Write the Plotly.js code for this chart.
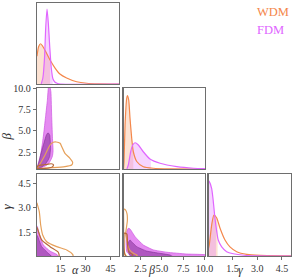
<!DOCTYPE html>
<html><head><meta charset="utf-8">
<script src="https://cdn.plot.ly/plotly-3.0.1.min.js"></script>
<style>html,body{margin:0;padding:0;background:#fff}#plot{width:293px;height:279px}</style>
</head><body><div id="plot"></div>
<script>
// ---------- Data ----------
const seriesNames = ['WDM', 'FDM'];
const paramNames = ['α', 'β', 'γ'];

// 1D marginals (normalised density)
const alphaWdmX = [1, 2, 3.2, 4.5, 6.5, 8.8, 11.8, 14.7, 18.7, 24.7, 30.7, 38, 50];
const alphaWdmP = [0.37, 0.50, 0.537, 0.50, 0.42, 0.32, 0.213, 0.133, 0.08, 0.03, 0.01, 0.003, 0];
const alphaFdmX = [3.5, 4.5, 5.5, 6.2, 7.0, 7.8, 8.6, 9.5, 10.5, 11.5, 13, 15, 50];
const alphaFdmP = [0, 0.08, 0.35, 0.75, 1.0, 0.8, 0.5, 0.22, 0.07, 0.03, 0.01, 0, 0];
const alphaWdmCI = [1, 8.8];
const alphaFdmCI = [4.0, 10.4];

const betaWdmX = [0.5, 0.56, 0.68, 0.87, 0.95, 1.11, 1.26, 1.46, 1.65, 2.05, 2.82, 4.0, 6, 10.05];
const betaWdmP = [0, 0.10, 0.59, 0.94, 0.98, 0.92, 0.68, 0.41, 0.23, 0.10, 0.03, 0.01, 0.002, 0];
const betaFdmX = [0.9, 1.06, 1.34, 1.58, 1.85, 2.24, 2.82, 3.6, 4.78, 6.74, 8.7, 10.05];
const betaFdmP = [0, 0.053, 0.23, 0.32, 0.35, 0.32, 0.23, 0.133, 0.076, 0.031, 0.01, 0.005];
const betaWdmCI = [0.56, 1.65];
const betaFdmCI = [1.06, 3.7];

const gammaWdmX = [0.05, 0.1, 0.25, 0.38, 0.55, 0.75, 1.05, 1.35, 1.76, 2.37, 3.2, 5.05];
const gammaWdmP = [0.1, 0.15, 0.42, 0.54, 0.5, 0.365, 0.21, 0.12, 0.057, 0.022, 0.008, 0.002];
const gammaFdmX = [0.05, 0.1, 0.24, 0.34, 0.44, 0.55, 0.64, 0.85, 1.15, 1.55, 2.2, 3.0, 5.05];
const gammaFdmP = [0.99, 0.98, 0.89, 0.72, 0.5, 0.32, 0.21, 0.12, 0.057, 0.03, 0.01, 0.003, 0];
const gammaWdmCI = [0.05, 0.6];
const gammaFdmCI = [0.05, 0.5];

// 2D credible contours: beta vs alpha
const baFdmOuterA = [8.6, 9.3, 9.8, 10.3, 10.6, 10.2, 9.6, 8.3, 6.8, 4.5, 2.8, 1.3, 0.9, 1.4, 2.8, 4.3, 5.2, 6.2, 7.2, 8.0, 8.6];
const baFdmOuterB = [10.3, 9.6, 6.5, 3.9, 2.6, 2.0, 1.7, 1.25, 0.95, 0.72, 0.58, 0.45, 0.6, 0.8, 1.76, 3.6, 5.0, 6.8, 8.6, 10.3, 10.3];
const baFdmInnerA = [7.6, 8.6, 9.1, 8.6, 7.7, 6.0, 4.8, 3.0, 1.8, 1.2, 1.5, 2.0, 3.6, 5.2, 6.6, 7.6];
const baFdmInnerB = [4.78, 4.5, 2.94, 2.0, 1.56, 1.1, 0.85, 0.65, 0.58, 0.7, 0.95, 1.3, 2.5, 3.6, 4.5, 4.78];
const baWdmOuterA = [10.7, 12.5, 14.8, 15.8, 17.7, 20.7, 22.3, 21.7, 17.7, 10.7, 3.8, 1.2, 1.5, 2.4, 5.8, 8.8, 10.7];
const baWdmOuterB = [3.65, 3.68, 3.53, 3.13, 2.35, 1.76, 1.29, 0.97, 0.77, 0.65, 0.58, 0.6, 0.75, 0.97, 2.15, 3.33, 3.65];
const baWdmInnerA = [1.2, 3.0, 4.8, 7.0, 9.5, 10.8, 10.2, 8.0, 5.8, 3.0, 1.2, 0.9, 1.2];
const baWdmInnerB = [0.8, 0.95, 1.0, 1.05, 1.12, 1.0, 0.75, 0.62, 0.57, 0.55, 0.58, 0.7, 0.8];

// gamma vs alpha
const gaFdmOuterA = [0.9, 1.2, 2.8, 4.8, 8.8, 12.8, 13.5, 12.0, 8.0, 4.0, 0.9];
const gaFdmOuterG = [1.9, 1.84, 1.23, 0.72, 0.35, 0.15, 0.06, 0.0, 0.0, 0.0, 0.0];
const gaFdmInnerA = [0.9, 1.2, 3.8, 7.75, 9.5, 8.0, 4.0, 0.9];
const gaFdmInnerG = [1.32, 1.29, 0.62, 0.21, 0.05, 0.0, 0.0, 0.0];
const gaWdmOuterA = [0.9, 1.2, 2.37, 3.2, 4.4, 6.8, 12.8, 18.75, 22.3, 22.5, 20, 12, 5, 0.9];
const gaWdmOuterG = [3.3, 3.2, 2.75, 1.94, 1.33, 0.92, 0.62, 0.42, 0.15, 0.05, 0.0, 0.0, 0.0, 0.0];
const gaWdmInnerA = [0.9, 1.2, 3.8, 8.8, 13.7, 14.2, 12, 5, 0.9];
const gaWdmInnerG = [1.8, 1.74, 1.03, 0.62, 0.28, 0.05, 0.0, 0.0, 0.0];

// gamma vs beta
const gbFdmOuterB = [1.06, 1.26, 1.85, 2.82, 4.0, 5.56, 7.9, 10.3, 10.3, 6.74, 4.78, 2.82, 1.3, 0.88, 0.8, 0.88, 1.06];
const gbFdmOuterG = [1.74, 1.7, 1.23, 0.72, 0.42, 0.28, 0.17, 0.11, 0.0, 0.0, 0.0, 0.0, 0.1, 0.31, 0.92, 1.53, 1.74];
const gbFdmInnerB = [1.26, 1.45, 2.05, 3.22, 4.78, 5.95, 6.3, 4.0, 2.0, 1.2, 1.1, 1.1, 1.26];
const gbFdmInnerG = [1.03, 0.92, 0.62, 0.35, 0.21, 0.11, 0.0, 0.0, 0.0, 0.1, 0.5, 0.9, 1.03];
const gbWdmOuterB = [0.55, 0.75, 0.92, 0.95, 0.85, 0.75, 0.85, 1.0, 1.25, 1.7, 2.1, 1.8, 1.0, 0.6, 0.52, 0.52, 0.55];
const gbWdmOuterG = [2.9, 2.85, 2.6, 2.2, 1.8, 1.4, 1.1, 0.7, 0.4, 0.2, 0.1, 0.0, 0.0, 0.2, 1.0, 2.0, 2.9];
const gbWdmInnerB = [0.6, 0.9, 0.95, 0.98, 1.1, 1.6, 1.4, 0.8, 0.6, 0.55, 0.6];
const gbWdmInnerG = [1.45, 1.38, 1.1, 0.7, 0.3, 0.12, 0.0, 0.0, 0.3, 0.9, 1.45];

// tick labels
const alphaTicks = [15, 30, 45];
const alphaTickText = ['15', '30', '45'];
const betaTicks = [2.5, 5.0, 7.5, 10.0];
const betaTickText = ['2.5', '5.0', '7.5', '10.0'];
const gammaTicks = [1.5, 3.0, 4.5];
const gammaTickText = ['1.5', '3.0', '4.5'];

// ---------- Styling ----------
const cW = '#f4874b', cF = '#e066ff';
const fillW = 'rgba(246,150,95,0.28)', fillF = 'rgba(224,102,255,0.28)';
const cFo = 'rgba(222,110,238,0.8)', cFi = 'rgba(140,55,160,0.6)';
const cWo = '#e6a05a', cWi = '#b8693a';
const serif = 'Liberation Serif, DejaVu Serif, serif';

function ciFill(xs, ys, lo, hi) {
  const ox = [], oy = [];
  function interp(v) {
    for (let i = 0; i < xs.length - 1; i++) {
      if (xs[i] <= v && v <= xs[i + 1]) {
        const t = (v - xs[i]) / (xs[i + 1] - xs[i]);
        return ys[i] + t * (ys[i + 1] - ys[i]);
      }
    }
    return v < xs[0] ? ys[0] : ys[ys.length - 1];
  }
  ox.push(lo); oy.push(interp(lo));
  for (let i = 0; i < xs.length; i++) if (xs[i] > lo && xs[i] < hi) { ox.push(xs[i]); oy.push(ys[i]); }
  ox.push(hi); oy.push(interp(hi));
  return {x: ox, y: oy};
}

const traces = [];
function marginal(ax, xs, ys, ci, fillC) {
  const f = ciFill(xs, ys, ci[0], ci[1]);
  traces.push({x: f.x, y: f.y, xaxis: 'x' + ax, yaxis: 'y' + ax, mode: 'lines', line: {width: 0, color: fillC},
    fill: 'tozeroy', fillcolor: fillC, hoverinfo: 'skip', showlegend: false});
}
function marginalLine(ax, xs, ys, lineC) {
  traces.push({x: xs, y: ys, xaxis: 'x' + ax, yaxis: 'y' + ax, mode: 'lines', line: {width: 1.2, color: lineC, shape: 'spline', smoothing: 0.6},
    hoverinfo: 'skip', showlegend: false});
}
function region(ax, xs, ys, fillC, lineC) {
  traces.push({x: xs, y: ys, xaxis: 'x' + ax, yaxis: 'y' + ax, mode: 'lines', fill: 'toself', fillcolor: fillC,
    line: {width: 0.8, color: lineC, shape: 'spline', smoothing: 0.4}, hoverinfo: 'skip', showlegend: false});
}
function contour(ax, xs, ys, lineC) {
  traces.push({x: xs, y: ys, xaxis: 'x' + ax, yaxis: 'y' + ax, mode: 'lines',
    line: {width: 1.2, color: lineC, shape: 'spline', smoothing: 0.6}, hoverinfo: 'skip', showlegend: false});
}

// diag 1 (alpha)
marginal(1, alphaWdmX, alphaWdmP, alphaWdmCI, fillW);
marginal(1, alphaFdmX, alphaFdmP, alphaFdmCI, fillF);
marginalLine(1, alphaWdmX, alphaWdmP, cW);
marginalLine(1, alphaFdmX, alphaFdmP, cF);
// beta vs alpha
region(2, baFdmOuterA, baFdmOuterB, cFo, 'rgba(205,85,225,0.9)');
region(2, baFdmInnerA, baFdmInnerB, cFi, 'rgba(125,45,145,0.7)');
contour(2, baWdmOuterA, baWdmOuterB, cWo);
contour(2, baWdmInnerA, baWdmInnerB, cWi);
// diag 2 (beta)
marginal(3, betaWdmX, betaWdmP, betaWdmCI, fillW);
marginal(3, betaFdmX, betaFdmP, betaFdmCI, fillF);
marginalLine(3, betaWdmX, betaWdmP, cW);
marginalLine(3, betaFdmX, betaFdmP, cF);
// gamma vs alpha
region(4, gaFdmOuterA, gaFdmOuterG, cFo, 'rgba(205,85,225,0.9)');
region(4, gaFdmInnerA, gaFdmInnerG, cFi, 'rgba(125,45,145,0.7)');
contour(4, gaWdmOuterA, gaWdmOuterG, cWo);
contour(4, gaWdmInnerA, gaWdmInnerG, cWi);
// gamma vs beta
region(5, gbFdmOuterB, gbFdmOuterG, cFo, 'rgba(205,85,225,0.9)');
region(5, gbFdmInnerB, gbFdmInnerG, cFi, 'rgba(125,45,145,0.7)');
contour(5, gbWdmOuterB, gbWdmOuterG, cWo);
contour(5, gbWdmInnerB, gbWdmInnerG, cWi);
// diag 3 (gamma)
marginal(6, gammaWdmX, gammaWdmP, gammaWdmCI, fillW);
marginal(6, gammaFdmX, gammaFdmP, gammaFdmCI, fillF);
marginalLine(6, gammaWdmX, gammaWdmP, cW);
marginalLine(6, gammaFdmX, gammaFdmP, cF);

// ---------- Layout ----------
const aR = [1, 50], bR = [0.5, 10.05], gR = [0.05, 5.05], pR = [0, 1.08];
const col = [[0, 0.3228], [0.3406, 0.6614], [0.6752, 1]];
const row = [[0.6798, 1], [0.3439, 0.664], [0, 0.3241]];
const tickFont = {family: serif, size: 10, color: '#333'};
function ax(domain, range, anchor, tv, tt) {
  const o = {domain: domain, range: range, anchor: anchor, showgrid: false, zeroline: false,
    showline: true, mirror: true, linecolor: '#6e6e6e', linewidth: 1.3, fixedrange: true,
    showticklabels: false, ticks: ''};
  if (tv) Object.assign(o, {tickvals: tv, ticktext: tt, ticks: 'outside', ticklen: 3, tickwidth: 1,
    tickcolor: '#6e6e6e', showticklabels: true, tickfont: tickFont});
  return o;
}
const labFont = {family: serif, size: 13, color: '#333'};
const botFont = {family: serif, size: 12, color: '#333'};
const layout = {
  width: 293, height: 279, margin: {l: 37, r: 2, t: 3, b: 23},
  paper_bgcolor: '#fff', plot_bgcolor: '#fff', showlegend: false,
  xaxis: ax(col[0], aR, 'y'), yaxis: ax(row[0], pR, 'x'),
  xaxis2: ax(col[0], aR, 'y2'), yaxis2: ax(row[1], bR, 'x2', betaTicks, betaTickText),
  xaxis3: ax(col[1], bR, 'y3'), yaxis3: ax(row[1], pR, 'x3'),
  xaxis4: ax(col[0], aR, 'y4', alphaTicks, alphaTickText), yaxis4: ax(row[2], gR, 'x4', gammaTicks, gammaTickText),
  xaxis5: ax(col[1], bR, 'y5', betaTicks, betaTickText), yaxis5: ax(row[2], gR, 'x5'),
  xaxis6: ax(col[2], gR, 'y6', gammaTicks, gammaTickText), yaxis6: ax(row[2], pR, 'x6'),
  annotations: [
    {text: seriesNames[0], x: 0.858, y: 0.964, xref: 'paper', yref: 'paper', xanchor: 'left', yanchor: 'middle', showarrow: false, font: {family: serif, size: 12.5, color: cW}},
    {text: seriesNames[1], x: 0.858, y: 0.893, xref: 'paper', yref: 'paper', xanchor: 'left', yanchor: 'middle', showarrow: false, font: {family: serif, size: 12.5, color: cF}},
    {text: '<i>' + paramNames[1] + '</i>', x: -0.156, xanchor: 'left', y: 0.4715, xref: 'paper', yref: 'paper', textangle: -90, showarrow: false, font: labFont},
    {text: '<i>' + paramNames[2] + '</i>', x: -0.156, xanchor: 'left', y: 0.175, xref: 'paper', yref: 'paper', textangle: -90, showarrow: false, font: labFont},
    {text: '<i>' + paramNames[0] + '</i>', x: 0.13, y: -0.091, xref: 'paper', yref: 'paper', yanchor: 'bottom', showarrow: false, font: botFont},
    {text: '<i>' + paramNames[1] + '</i>', x: 0.449, y: -0.091, xref: 'paper', yref: 'paper', yanchor: 'bottom', showarrow: false, font: botFont},
    {text: '<i>' + paramNames[2] + '</i>', x: 0.819, y: -0.091, xref: 'paper', yref: 'paper', yanchor: 'bottom', showarrow: false, font: botFont}
  ]
};
Plotly.newPlot('plot', traces, layout, {staticPlot: true, displayModeBar: false});
</script></body></html>
